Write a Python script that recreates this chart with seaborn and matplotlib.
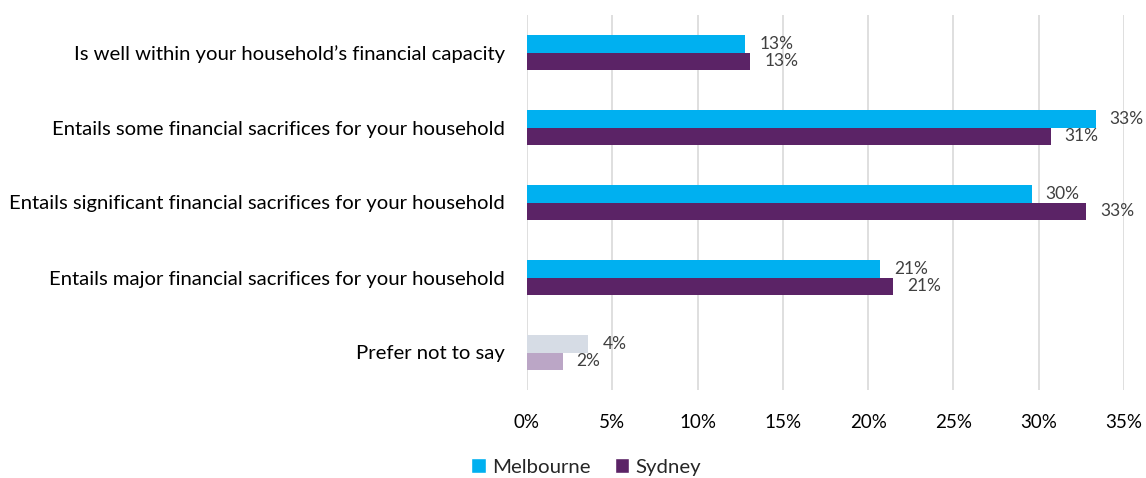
import matplotlib
matplotlib.use("Agg")
import matplotlib.pyplot as plt
import seaborn as sns
import pandas as pd
from matplotlib.patches import Patch

categories = [
    "Is well within your household\u2019s financial capacity",
    "Entails some financial sacrifices for your household",
    "Entails significant financial sacrifices for your household",
    "Entails major financial sacrifices for your household",
    "Prefer not to say",
]
melbourne = [12.8, 33.35, 29.6, 20.7, 3.6]
sydney = [13.1, 30.7, 32.8, 21.45, 2.1]
series = ["Melbourne", "Sydney"]
xticks = [0, 5, 10, 15, 20, 25, 30, 35]

colors = {"Melbourne": "#00B0F0", "Sydney": "#5B2366"}
light = {"Melbourne": "#D6DCE5", "Sydney": "#BBA6C6"}

df = pd.DataFrame({
    "category": categories * 2,
    "city": ["Melbourne"] * len(categories) + ["Sydney"] * len(categories),
    "value": melbourne + sydney,
})

sns.set_theme(style="white")
plt.rcParams["font.family"] = ["Lato", "DejaVu Sans"]

fig = plt.figure(figsize=(11.46, 4.78), dpi=100)
ax = fig.add_axes([527 / 1146, 1 - 390 / 478, (1124 - 527) / 1146, 375 / 478])

sns.barplot(data=df, y="category", x="value", hue="city", orient="h",
            palette=colors, saturation=1, width=0.46, gap=0, ax=ax, legend=False,
            order=categories, hue_order=series, errorbar=None)

# recolor "Prefer not to say" bars and add labels
for cont, city in zip(ax.containers, series):
    for i, bar in enumerate(cont):
        if categories[i] == "Prefer not to say":
            bar.set_facecolor(light[city])
        bar.set_edgecolor("none")
    ax.bar_label(cont, labels=[f"{v:.0f}%" for v in cont.datavalues],
                 padding=10, fontsize=12.5, color="#404040")

ax.set_xlim(0, 35)
ax.set_ylim(4.5, -0.5)
ax.set_xticks(xticks)
ax.set_xticklabels([f"{t}%" for t in xticks])
ax.grid(axis="x", color="#D9D9D9", linewidth=1.2)
ax.grid(axis="y", visible=False)
ax.set_axisbelow(True)
for s in ax.spines.values():
    s.set_visible(False)
ax.set_xlabel("")
ax.set_ylabel("")
ax.tick_params(axis="y", length=0, pad=16, labelsize=14.6, labelcolor="#000000")
ax.tick_params(axis="x", length=0, pad=17, labelsize=13.5, labelcolor="#000000")

handles = [Patch(facecolor=colors[c], label=c) for c in series]
fig.legend(handles=handles, loc="center", bbox_to_anchor=(586 / 1146, 1 - 467 / 478),
           ncol=2, frameon=False, fontsize=14.7, handlelength=0.7, handleheight=0.7,
           handletextpad=0.3, columnspacing=1.2)

fig.savefig("out.png", dpi=100, facecolor="white")
